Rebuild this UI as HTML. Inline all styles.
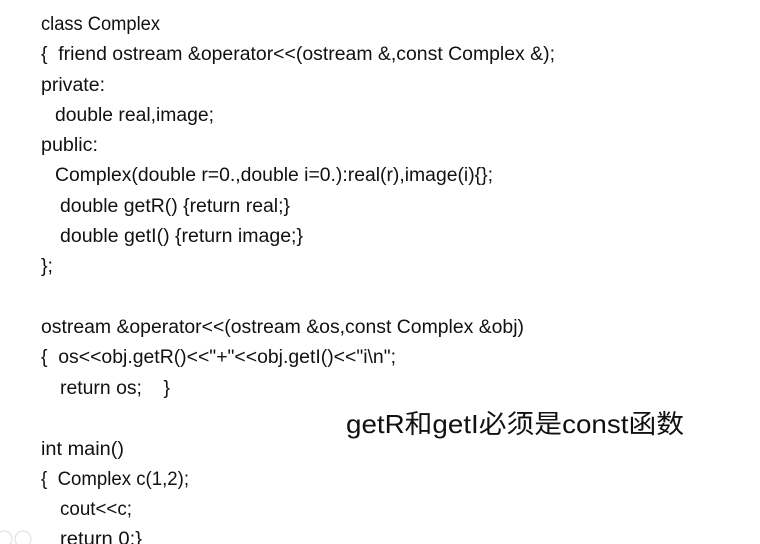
<!DOCTYPE html>
<html><head><meta charset="utf-8"><style>
html,body{margin:0;padding:0;background:#fff;width:760px;height:544px;overflow:hidden}
svg{display:block}
text{font-family:"Liberation Sans","Noto Sans CJK SC",sans-serif;font-size:19px;fill:#111;white-space:pre}
</style></head><body>
<svg width="760" height="544" viewBox="0 0 760 544" xmlns="http://www.w3.org/2000/svg" xml:space="preserve">
<text x="41" y="30" textLength="119" lengthAdjust="spacingAndGlyphs">class Complex</text>
<text x="41" y="60" textLength="514" lengthAdjust="spacingAndGlyphs">{  friend ostream &amp;operator&lt;&lt;(ostream &amp;,const Complex &amp;);</text>
<text x="41" y="91" textLength="64" lengthAdjust="spacingAndGlyphs">private:</text>
<text x="55" y="121" textLength="159" lengthAdjust="spacingAndGlyphs">double real,image;</text>
<text x="41" y="151" textLength="57" lengthAdjust="spacingAndGlyphs">public:</text>
<text x="55" y="181" textLength="438" lengthAdjust="spacingAndGlyphs">Complex(double r=0.,double i=0.):real(r),image(i){};</text>
<text x="60" y="212" textLength="230" lengthAdjust="spacingAndGlyphs">double getR() {return real;}</text>
<text x="60" y="242" textLength="243" lengthAdjust="spacingAndGlyphs">double getI() {return image;}</text>
<text x="41" y="272" textLength="12" lengthAdjust="spacingAndGlyphs">};</text>
<text x="41" y="333" textLength="483" lengthAdjust="spacingAndGlyphs">ostream &amp;operator&lt;&lt;(ostream &amp;os,const Complex &amp;obj)</text>
<text x="41" y="363" textLength="355" lengthAdjust="spacingAndGlyphs">{  os&lt;&lt;obj.getR()&lt;&lt;"+"&lt;&lt;obj.getI()&lt;&lt;"i\n";</text>
<text x="60" y="394" textLength="110" lengthAdjust="spacingAndGlyphs">return os;    }</text>
<text x="346" y="433" textLength="338" lengthAdjust="spacingAndGlyphs" style="font-size:26px">getR和getI必须是const函数</text>
<text x="41" y="455" textLength="83" lengthAdjust="spacingAndGlyphs">int main()</text>
<text x="41" y="485" textLength="148" lengthAdjust="spacingAndGlyphs">{  Complex c(1,2);</text>
<text x="60" y="515" textLength="72" lengthAdjust="spacingAndGlyphs">cout&lt;&lt;c;</text>
<text x="60" y="545" textLength="82" lengthAdjust="spacingAndGlyphs">return 0;}</text>
<circle cx="4" cy="539" r="8" fill="none" stroke="#ddd"/>
<circle cx="23" cy="539" r="8" fill="none" stroke="#ddd"/>
</svg>
</body></html>
